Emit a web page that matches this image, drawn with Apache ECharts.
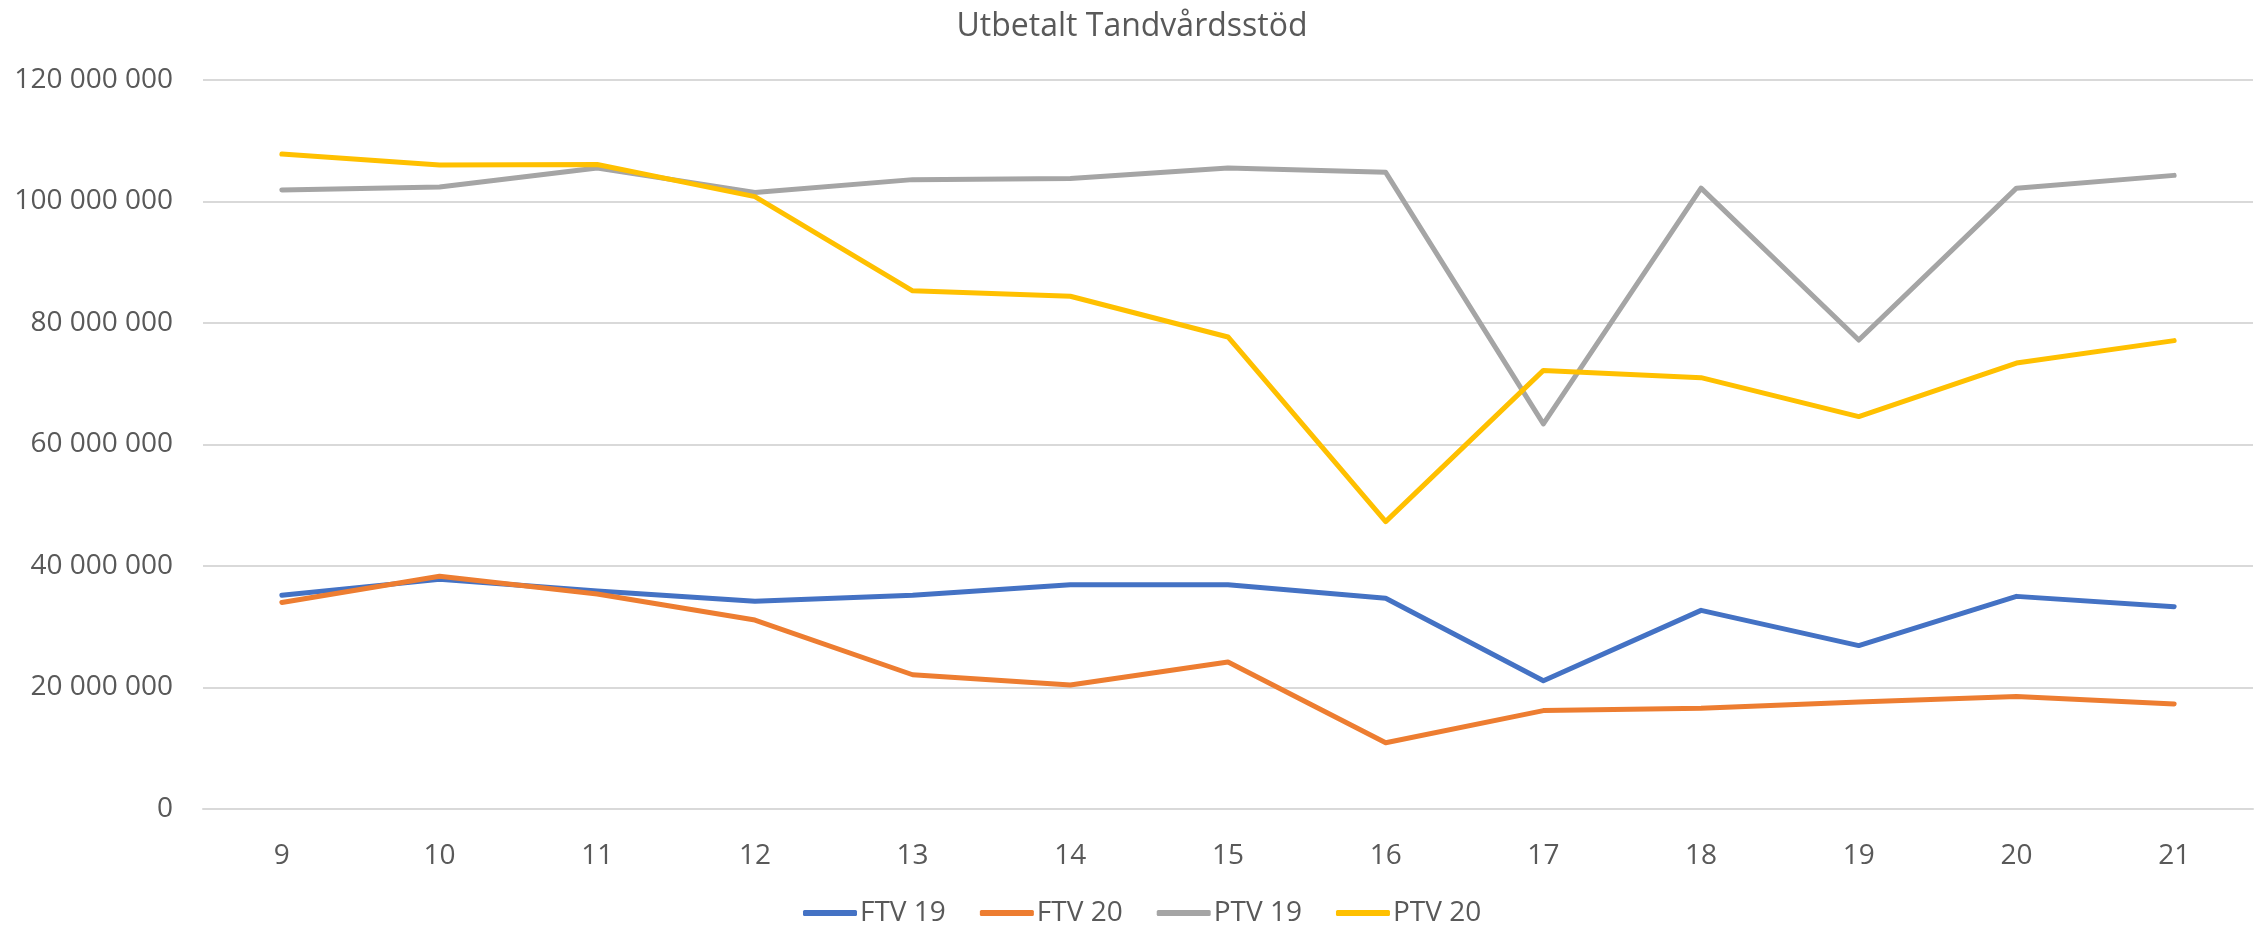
<!DOCTYPE html>
<html>
<head>
<meta charset="utf-8">
<script src="https://cdn.jsdelivr.net/npm/echarts@6/dist/echarts.min.js"></script>
<style>
html,body{margin:0;padding:0;background:#fff;}
#chart{width:2264px;height:927px;}
</style>
</head>
<body>
<div id="chart"></div>
<script>
const categories = ['9','10','11','12','13','14','15','16','17','18','19','20','21'];
const ftv19 = [35200000, 37800000, 35900000, 34200000, 35200000, 36900000, 36900000, 34700000, 21100000, 32700000, 26900000, 35000000, 33300000];
const ftv20 = [34000000, 38300000, 35400000, 31100000, 22100000, 20400000, 24200000, 10900000, 16200000, 16600000, 17600000, 18500000, 17300000];
const ptv19 = [101900000, 102400000, 105500000, 101500000, 103600000, 103800000, 105500000, 104800000, 63400000, 102200000, 77200000, 102200000, 104300000];
const ptv20 = [107800000, 106000000, 106100000, 100800000, 85300000, 84400000, 77700000, 47300000, 72200000, 71000000, 64600000, 73400000, 77100000];
const seriesNames = ['FTV 19', 'FTV 20', 'PTV 19', 'PTV 20'];
const colors = ['#4472C4', '#ED7D31', '#A5A5A5', '#FFC000'];

const font = 'Open Sans';
const chart = echarts.init(document.getElementById('chart'));
const mk = (name, data, color) => ({
  name, type: 'line', data, symbol: 'none', smooth: false,
  lineStyle: { color, width: 5, cap: 'round', join: 'round' },
  itemStyle: { color }
});
chart.setOption({
  animation: false,
  color: colors,
  title: {
    text: 'Utbetalt Tandvårdsstöd', left: 'center', top: 6,
    padding: [5, 0, 5, 14],
    textStyle: { fontFamily: font, fontSize: 32, fontWeight: 'normal', color: '#595959' }
  },
  legend: {
    bottom: -5, left: 798,
    icon: 'roundRect', itemWidth: 54, itemHeight: 6, itemGap: 34,
    textStyle: { fontFamily: font, fontSize: 28, color: '#595959', padding: [0, 0, 0, -2] },
    data: seriesNames
  },
  grid: { left: 203, right: 11, top: 80, bottom: 118, containLabel: false },
  xAxis: {
    type: 'category', data: categories, boundaryGap: true,
    axisLine: { lineStyle: { color: '#d9d9d9', width: 2 } },
    axisTick: { show: false },
    axisLabel: { fontFamily: font, fontSize: 28, color: '#595959', margin: 33 }
  },
  yAxis: {
    type: 'value', min: 0, max: 120000000, interval: 20000000,
    axisLine: { show: false }, axisTick: { show: false },
    splitLine: { lineStyle: { color: '#d9d9d9', width: 2 } },
    axisLabel: {
      fontFamily: font, fontSize: 28, color: '#595959', margin: 30,
      formatter: v => String(v).replace(/\B(?=(\d{3})+(?!\d))/g, ' ')
    }
  },
  series: [
    mk(seriesNames[0], ftv19, colors[0]),
    mk(seriesNames[1], ftv20, colors[1]),
    mk(seriesNames[2], ptv19, colors[2]),
    mk(seriesNames[3], ptv20, colors[3])
  ]
});
</script>
</body>
</html>
